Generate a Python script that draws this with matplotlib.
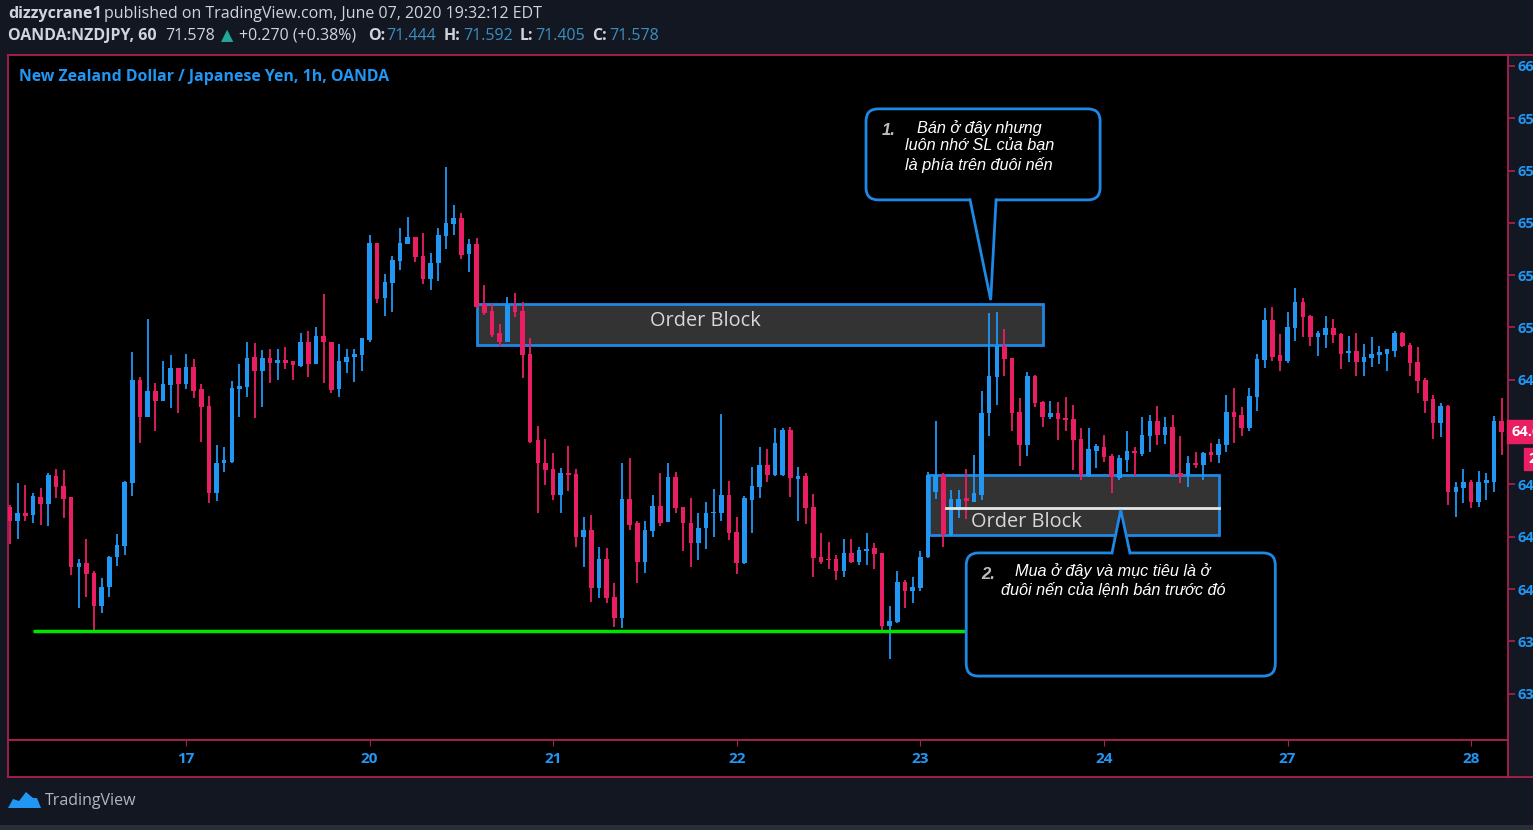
import numpy as np
import matplotlib
matplotlib.use('Agg')
import matplotlib.pyplot as plt
import matplotlib.transforms as mtrans
from matplotlib.patches import FancyBboxPatch, Rectangle, Polygon

# hourly candles, NZDJPY
opens = [64.315, 64.261, 64.289, 64.282, 64.353, 64.325, 64.433, 64.394, 64.351, 64.083,
         64.098, 64.060, 63.936, 64.007, 64.121, 64.166, 64.407, 64.799, 64.659, 64.758,
         64.720, 64.780, 64.844, 64.784, 64.848, 64.765, 64.700, 64.366, 64.481, 64.487,
         64.764, 64.774, 64.886, 64.835, 64.883, 64.864, 64.875, 64.871, 64.854, 64.946,
         64.860, 64.967, 64.946, 64.764, 64.869, 64.886, 64.895, 64.952, 65.324, 65.112,
         65.169, 65.255, 65.319, 65.347, 65.273, 65.184, 65.245, 65.350, 65.395, 65.418,
         65.281, 65.319, 65.090, 65.064, 64.978, 64.943, 65.082, 65.064, 64.899, 64.570,
         64.483, 64.459, 64.359, 64.445, 64.440, 64.198, 64.226, 64.003, 64.114, 63.968,
         63.888, 64.343, 64.251, 64.104, 64.223, 64.317, 64.257, 64.427, 64.312, 64.254,
         64.175, 64.232, 64.289, 64.292, 64.359, 64.219, 64.098, 64.340, 64.391, 64.474,
         64.436, 64.436, 64.608, 64.421, 64.433, 64.315, 64.121, 64.116, 64.114, 64.070,
         64.139, 64.104, 64.147, 64.156, 64.139, 63.858, 63.875, 64.028, 63.994, 64.003,
         64.124, 64.372, 64.436, 64.207, 64.302, 64.347, 64.334, 64.359, 64.672, 64.810,
         64.929, 64.882, 64.678, 64.551, 64.815, 64.716, 64.657, 64.674, 64.653, 64.650,
         64.572, 64.432, 64.529, 64.544, 64.509, 64.423, 64.493, 64.529, 64.516, 64.585,
         64.644, 64.589, 64.621, 64.442, 64.436, 64.483, 64.474, 64.525, 64.512, 64.551,
         64.678, 64.665, 64.615, 64.735, 64.876, 65.029, 64.895, 64.873, 64.997, 65.099,
         65.044, 64.965, 64.971, 64.999, 64.975, 64.901, 64.911, 64.869, 64.882, 64.895,
         64.899, 64.911, 64.980, 64.933, 64.869, 64.799, 64.725, 64.634, 64.700, 64.371,
         64.385, 64.410, 64.334, 64.404, 64.410, 64.644]
highs = [64.321, 64.404, 64.398, 64.366, 64.386, 64.444, 64.459, 64.455, 64.353, 64.114,
         64.190, 64.069, 64.043, 64.126, 64.210, 64.412, 64.907, 64.812, 65.032, 64.787,
         64.873, 64.895, 64.845, 64.899, 64.878, 64.784, 64.738, 64.551, 64.544, 64.795,
         64.859, 64.943, 64.942, 64.914, 64.917, 64.917, 64.927, 64.872, 64.978, 64.988,
         65.003, 65.128, 64.946, 64.937, 64.917, 64.917, 64.959, 65.354, 65.324, 65.205,
         65.273, 65.379, 65.421, 65.347, 65.363, 65.286, 65.379, 65.613, 65.468, 65.437,
         65.337, 65.341, 65.163, 65.090, 65.013, 65.118, 65.131, 65.099, 64.959, 64.624,
         64.574, 64.519, 64.464, 64.548, 64.459, 64.274, 64.283, 64.159, 64.156, 64.024,
         64.481, 64.500, 64.261, 64.261, 64.359, 64.445, 64.483, 64.449, 64.315, 64.347,
         64.292, 64.334, 64.381, 64.669, 64.414, 64.274, 64.356, 64.465, 64.544, 64.534,
         64.615, 64.615, 64.621, 64.465, 64.442, 64.363, 64.213, 64.181, 64.130, 64.190,
         64.190, 64.159, 64.213, 64.177, 64.139, 63.935, 64.070, 64.034, 64.047, 64.146,
         64.449, 64.644, 64.442, 64.379, 64.379, 64.458, 64.512, 64.758, 65.054, 65.060,
         64.993, 64.882, 64.729, 64.831, 64.818, 64.720, 64.720, 64.716, 64.733, 64.704,
         64.615, 64.615, 64.555, 64.589, 64.516, 64.512, 64.605, 64.542, 64.659, 64.665,
         64.700, 64.659, 64.665, 64.585, 64.509, 64.525, 64.525, 64.559, 64.572, 64.742,
         64.767, 64.695, 64.767, 64.899, 65.073, 65.077, 64.975, 65.058, 65.150, 65.112,
         65.048, 64.988, 65.044, 65.032, 64.980, 64.967, 64.980, 64.937, 64.963, 64.929,
         64.917, 64.988, 64.984, 64.940, 64.924, 64.806, 64.742, 64.710, 64.704, 64.410,
         64.458, 64.417, 64.452, 64.445, 64.662, 64.729]
lows = [64.172, 64.190, 64.261, 64.251, 64.245, 64.241, 64.347, 64.271, 64.053, 63.926,
        63.968, 63.837, 63.909, 63.968, 64.089, 64.130, 64.356, 64.559, 64.659, 64.605,
        64.720, 64.691, 64.674, 64.764, 64.729, 64.563, 64.330, 64.338, 64.449, 64.481,
        64.659, 64.735, 64.653, 64.695, 64.787, 64.799, 64.840, 64.799, 64.850, 64.810,
        64.860, 64.787, 64.748, 64.733, 64.825, 64.793, 64.835, 64.946, 65.095, 65.044,
        65.060, 65.220, 65.319, 65.252, 65.166, 65.143, 65.179, 65.299, 65.354, 65.261,
        65.213, 65.073, 65.048, 64.963, 64.924, 64.943, 65.041, 64.806, 64.557, 64.292,
        64.398, 64.340, 64.292, 64.376, 64.159, 64.083, 63.951, 63.964, 63.948, 63.856,
        63.850, 64.226, 64.022, 64.062, 64.200, 64.241, 64.257, 64.292, 64.146, 64.085,
        64.111, 64.152, 64.198, 64.261, 64.187, 64.057, 64.096, 64.215, 64.347, 64.410,
        64.432, 64.432, 64.351, 64.261, 64.249, 64.047, 64.096, 64.075, 64.034, 64.047,
        64.101, 64.092, 64.092, 64.075, 63.837, 63.731, 63.871, 63.926, 63.945, 63.994,
        64.117, 64.343, 64.162, 64.203, 64.270, 64.267, 64.334, 64.340, 64.585, 64.704,
        64.815, 64.605, 64.470, 64.509, 64.695, 64.621, 64.649, 64.570, 64.605, 64.455,
        64.417, 64.429, 64.462, 64.487, 64.366, 64.417, 64.449, 64.432, 64.509, 64.525,
        64.551, 64.555, 64.436, 64.407, 64.391, 64.462, 64.417, 64.487, 64.483, 64.525,
        64.559, 64.585, 64.605, 64.682, 64.844, 64.873, 64.835, 64.863, 64.950, 64.965,
        64.929, 64.891, 64.920, 64.940, 64.840, 64.869, 64.815, 64.815, 64.850, 64.860,
        64.835, 64.888, 64.927, 64.815, 64.748, 64.674, 64.572, 64.580, 64.321, 64.277,
        64.330, 64.309, 64.315, 64.340, 64.372, 64.512]
closes = [64.261, 64.289, 64.280, 64.356, 64.325, 64.436, 64.389, 64.344, 64.083, 64.101,
          64.056, 63.936, 64.009, 64.124, 64.168, 64.409, 64.799, 64.659, 64.758, 64.720,
          64.783, 64.844, 64.784, 64.848, 64.758, 64.695, 64.366, 64.483, 64.493, 64.767,
          64.777, 64.884, 64.835, 64.883, 64.863, 64.875, 64.863, 64.855, 64.946, 64.860,
          64.967, 64.945, 64.761, 64.872, 64.888, 64.899, 64.959, 65.324, 65.108, 65.173,
          65.258, 65.322, 65.347, 65.271, 65.184, 65.248, 65.354, 65.398, 65.418, 65.277,
          65.319, 65.080, 65.057, 64.971, 64.943, 65.086, 65.058, 64.895, 64.561, 64.481,
          64.455, 64.359, 64.445, 64.436, 64.198, 64.226, 64.003, 64.114, 63.964, 63.888,
          64.343, 64.245, 64.104, 64.226, 64.317, 64.254, 64.427, 64.309, 64.251, 64.175,
          64.232, 64.292, 64.296, 64.359, 64.213, 64.101, 64.347, 64.394, 64.474, 64.436,
          64.559, 64.608, 64.423, 64.432, 64.309, 64.117, 64.104, 64.111, 64.070, 64.139,
          64.104, 64.149, 64.152, 64.134, 63.858, 63.879, 64.028, 63.994, 64.009, 64.124,
          64.436, 64.436, 64.207, 64.343, 64.343, 64.338, 64.366, 64.672, 64.815, 64.929,
          64.878, 64.674, 64.551, 64.815, 64.710, 64.659, 64.674, 64.649, 64.646, 64.570,
          64.436, 64.534, 64.547, 64.506, 64.429, 64.500, 64.529, 64.521, 64.589, 64.644,
          64.589, 64.621, 64.436, 64.432, 64.483, 64.474, 64.521, 64.512, 64.555, 64.678,
          64.659, 64.615, 64.738, 64.878, 65.029, 64.886, 64.873, 65.001, 65.099, 65.041,
          64.965, 64.978, 64.999, 64.971, 64.899, 64.911, 64.869, 64.888, 64.899, 64.907,
          64.917, 64.980, 64.929, 64.865, 64.797, 64.720, 64.634, 64.700, 64.372, 64.389,
          64.410, 64.334, 64.410, 64.417, 64.644, 64.602]

day_labels = ['17', '20', '21', '22', '23', '24', '27', '28']
day_bars = [23, 47, 71, 95, 119, 143, 167, 191]
price_ticks = [63.6, 63.8, 64.0, 64.2, 64.4, 64.6, 64.8, 65.0, 65.2, 65.4, 65.6, 65.8, 66.0]

# zones: (first bar, last bar, low, high)
sell_block = (61.0, 135.0, 64.933, 65.090)
buy_block = (120.1, 158.0, 64.207, 64.436)
buy_block_mid = 64.310
support = 63.839
support_bars = (3.0, 124.8)

UP = '#2196f3'
DOWN = '#e91e63'
FRAME = '#a8224e'
EDGE = '#1e88e5'
TXT = '#d1d4dc'
VAL = '#3b8fbf'

W, H = 1533, 830
fig = plt.figure(figsize=(W / 100, H / 100), dpi=100, facecolor='#131722')
plt.rcParams['font.family'] = ['Open Sans', 'DejaVu Sans']


def fy(py):
    return 1 - py / H


# main pane
ax = fig.add_axes([8 / W, fy(740), 1500 / W, 685 / H])
ax.set_facecolor('black')
ax.set_xlim(-0.26, 195.82)
ax.set_ylim(63.4226, 66.042)
for s in ax.spines.values():
    s.set_color(FRAME)
    s.set_linewidth(1.3)
ax.set_xticks([])
ax.yaxis.tick_right()
ax.set_yticks(price_ticks)
ax.set_yticklabels(['{:.3f}'.format(p) for p in price_ticks])
ax.tick_params(axis='y', colors=FRAME, labelcolor=UP, length=5, width=1.2,
               labelsize=10.5, pad=2)
for lbl in ax.get_yticklabels():
    lbl.set_fontweight('bold')

# candles
idx = np.arange(len(opens))
o = np.array(opens)
c = np.array(closes)
cols = np.where(c >= o, UP, DOWN)
ax.vlines(idx, lows, highs, colors=cols, linewidth=1.3, zorder=3)
body = np.maximum(np.abs(c - o), 0.005)
ax.bar(idx, body, bottom=np.minimum(o, c), width=0.6, color=cols, zorder=3)

# order blocks
for blk in (sell_block, buy_block):
    ax.add_patch(Rectangle((blk[0], blk[2]), blk[1] - blk[0], blk[3] - blk[2],
                           facecolor='#333333', edgecolor=EDGE, linewidth=2, zorder=1))
ax.text(90.85, 65.025, 'Order Block', color='#d8d8d8', fontsize=14.3,
        ha='center', va='center', zorder=5)
ax.plot([122.35, buy_block[1]], [buy_block_mid, buy_block_mid], color='#e6e6e6',
        linewidth=2, zorder=4)
ax.text(132.8, 64.256, 'Order Block', color='#d8d8d8', fontsize=14.3,
        ha='center', va='center', zorder=5)

ax.hlines(support, support_bars[0], support_bars[1], color='#00e600', linewidth=2.5, zorder=4)

# callouts
asp = 7.65 / 261.5


def callout(x0, x1, y0, y1, base_y, b0, b1, tip, inside):
    ax.add_patch(FancyBboxPatch((x0, y0), x1 - x0, y1 - y0,
                                boxstyle='round,pad=0,rounding_size=1.6',
                                mutation_aspect=asp, facecolor='black',
                                edgecolor=EDGE, linewidth=2, zorder=6))
    ax.add_patch(Polygon([(b0, base_y + inside), tip, (b1, base_y + inside)],
                         closed=True, facecolor='black', edgecolor='none', zorder=7))
    ax.plot([b0, tip[0], b1], [base_y, tip[1], base_y], color=EDGE, linewidth=2,
            zorder=8, solid_joinstyle='miter')


callout(111.9, 142.5, 65.488, 65.836, 65.488, 125.5, 128.9, (128.2, 65.105), 0.012)
callout(125.0, 165.4, 63.667, 64.138, 64.138, 144.05, 146.4, (145.2, 64.302), -0.012)

it = dict(family=['Liberation Sans', 'DejaVu Sans'], style='italic', color='white',
          fontsize=11.7, ha='center', va='center', zorder=9)
num = dict(family=['Liberation Sans', 'DejaVu Sans'], style='italic', weight='bold',
           color='#bdbdbd', fontsize=12, ha='left', va='center', zorder=9)
ax.text(113.9, 65.752, '1.', **num)
ax.text(126.7, 65.763, 'Bán ở đây nhưng', **it)
ax.text(126.7, 65.694, 'luôn nhớ SL của bạn', **it)
ax.text(126.7, 65.621, 'là phía trên đuôi nến', **it)
ax.text(127.0, 64.055, '2.', **num)
ax.text(144.2, 64.069, 'Mua ở đây và mục tiêu là ở', **it)
ax.text(144.2, 63.996, 'đuôi nến của lệnh bán trước đó', **it)

ax.text(0.0073, 0.968, 'New Zealand Dollar / Japanese Yen, 1h, OANDA', transform=ax.transAxes,
        color=UP, fontsize=11.4, fontweight='bold', ha='left', va='center')

# last price tags
tr = mtrans.blended_transform_factory(ax.transAxes, ax.transData)
ax.text(1.0025, closes[-1], '{:.3f}'.format(closes[-1]), transform=tr, color='white',
        fontsize=10.5, fontweight='bold', ha='left', va='center', clip_on=False, zorder=10,
        bbox=dict(boxstyle='square,pad=0.3', facecolor=DOWN, edgecolor=DOWN))
ax.text(1.0135, 64.497, '20:27', transform=tr, color='white',
        fontsize=10.5, fontweight='bold', ha='left', va='center', clip_on=False, zorder=10,
        bbox=dict(boxstyle='square,pad=0.3', facecolor=DOWN, edgecolor=DOWN))

# time axis
tax = fig.add_axes([8 / W, fy(777), 1500 / W, 37 / H])
tax.set_facecolor('black')
tax.set_xlim(ax.get_xlim())
tax.set_ylim(0, 1)
for s in tax.spines.values():
    s.set_color(FRAME)
    s.set_linewidth(1.3)
tax.set_yticks([])
tax.set_xticks(day_bars)
tax.tick_params(axis='x', top=True, bottom=False, direction='in', length=4,
                color=FRAME, labelbottom=False)
for b, lab in zip(day_bars, day_labels):
    tax.text(b, 0.5, lab, color=UP, fontsize=11, fontweight='bold',
             ha='center', va='center')

fig.add_artist(plt.Line2D([1508 / W, 1], [fy(55), fy(55)], color=FRAME, linewidth=1.3))
fig.add_artist(plt.Line2D([1508 / W, 1], [fy(777), fy(777)], color=FRAME, linewidth=1.3))

# header
fig.text(8 / W, fy(14), 'dizzycrane1', color=TXT, fontsize=11.5, fontweight='bold', va='center')
fig.text(104 / W, fy(14), 'published on TradingView.com, June 07, 2020 19:32:12 EDT',
         color=TXT, fontsize=11.5, va='center')
hdr = [(8, 'OANDA:NZDJPY, 60', TXT, 'bold'), (165, '71.578', TXT, 'normal'),
       (221, '▲', '#26a69a', 'normal'), (239, '+0.270 (+0.38%)', TXT, 'normal'),
       (368, 'O:', TXT, 'bold'), (386, '71.444', VAL, 'normal'),
       (444, 'H:', TXT, 'bold'), (463, '71.592', VAL, 'normal'),
       (520, 'L:', TXT, 'bold'), (535, '71.405', VAL, 'normal'),
       (592, 'C:', TXT, 'bold'), (609, '71.578', VAL, 'normal')]
for x, s, col, wt in hdr:
    fig.text(x / W, fy(36), s, color=col, fontsize=11.5, fontweight=wt, va='center')

# footer
logo = [(8, 808), (13, 799), (19, 801), (26, 792), (33, 798), (37, 798), (41, 808)]
fig.add_artist(Polygon([(x / W, fy(y)) for x, y in logo], closed=True,
                       transform=fig.transFigure, facecolor='#2196f3', edgecolor='none'))
fig.text(45 / W, fy(801), 'TradingView', color='#b2b5be', fontsize=11.5, va='center')
fig.add_artist(Rectangle((0, 0), 1, 5 / H, transform=fig.transFigure,
                         facecolor='#2a2e39', edgecolor='none'))

fig.savefig('out.png', dpi=100, facecolor=fig.get_facecolor())
